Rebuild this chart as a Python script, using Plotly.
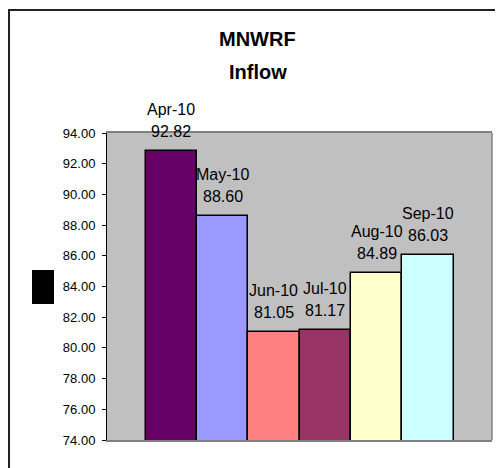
import plotly.graph_objects as go

months = ["Apr-10", "May-10", "Jun-10", "Jul-10", "Aug-10", "Sep-10"]
inflow = [92.82, 88.60, 81.05, 81.17, 84.89, 86.03]
colors = ["#660066", "#9999FF", "#FF8080", "#993366", "#FFFFCC", "#CCFFFF"]
title_lines = ["MNWRF", "Inflow"]

FONT = "Liberation Sans, Arial, sans-serif"

fig = go.Figure()
fig.add_trace(go.Bar(
    x=months, y=inflow,
    marker=dict(color=colors, line=dict(color="black", width=1.5)),
    hoverinfo="x+y", showlegend=False,
))

annotations = []
for m, v in zip(months, inflow):
    annotations.append(dict(x=m, y=v, xref="x", yref="y", text=f"{v:.2f}",
                            showarrow=False, yanchor="bottom", yshift=9,
                            font=dict(family=FONT, size=16, color="black")))
    annotations.append(dict(x=m, y=v, xref="x", yref="y", text=m,
                            showarrow=False, yanchor="bottom", yshift=31,
                            font=dict(family=FONT, size=16, color="black")))

annotations.append(dict(x=0.392, y=1.306, xref="paper", yref="paper", text=f"<b>{title_lines[0]}</b>",
                        showarrow=False, yanchor="middle", xanchor="center",
                        font=dict(family=FONT, size=20, color="black")))
annotations.append(dict(x=0.392, y=1.199, xref="paper", yref="paper", text=f"<b>{title_lines[1]}</b>",
                        showarrow=False, yanchor="middle", xanchor="center",
                        font=dict(family=FONT, size=20, color="black")))

shapes = [
    # outer chart border (extends beyond the visible window right/bottom)
    dict(type="rect", xref="paper", yref="paper", x0=-0.2545, x1=1.08, y0=-0.15, y1=1.4007,
         line=dict(color="#222222", width=2), fillcolor="rgba(0,0,0,0)", layer="below"),
    # right border of plot area
    dict(type="line", xref="paper", yref="paper", x0=1, x1=1, y0=0, y1=1,
         line=dict(color="#808080", width=1.5)),
    # black key box on the left
    dict(type="rect", xref="paper", yref="paper", x0=-0.1948, x1=-0.1377, y0=0.443, y1=0.5537,
         line=dict(width=0), fillcolor="black"),
]

fig.update_layout(
    width=495, height=460, autosize=False,
    margin=dict(l=99, r=11, t=125, b=28),
    paper_bgcolor="white", plot_bgcolor="#C0C0C0",
    bargap=0,
    annotations=annotations, shapes=shapes,
    font=dict(family=FONT, color="black"),
    xaxis=dict(type="category", range=[-1.25, 6.25], showticklabels=False, ticks="",
               showgrid=False, zeroline=False, showline=True, linecolor="#808080",
               linewidth=1.5, mirror=True, fixedrange=True),
    yaxis=dict(range=[74, 94], dtick=2, tickformat=".2f", showgrid=False, zeroline=False,
               showline=True, linecolor="black", linewidth=1, ticks="outside", ticklen=4,
               tickcolor="black", tickfont=dict(family=FONT, size=13, color="black"),
               ticklabelstandoff=4),
)

fig.write_html("out.html")
